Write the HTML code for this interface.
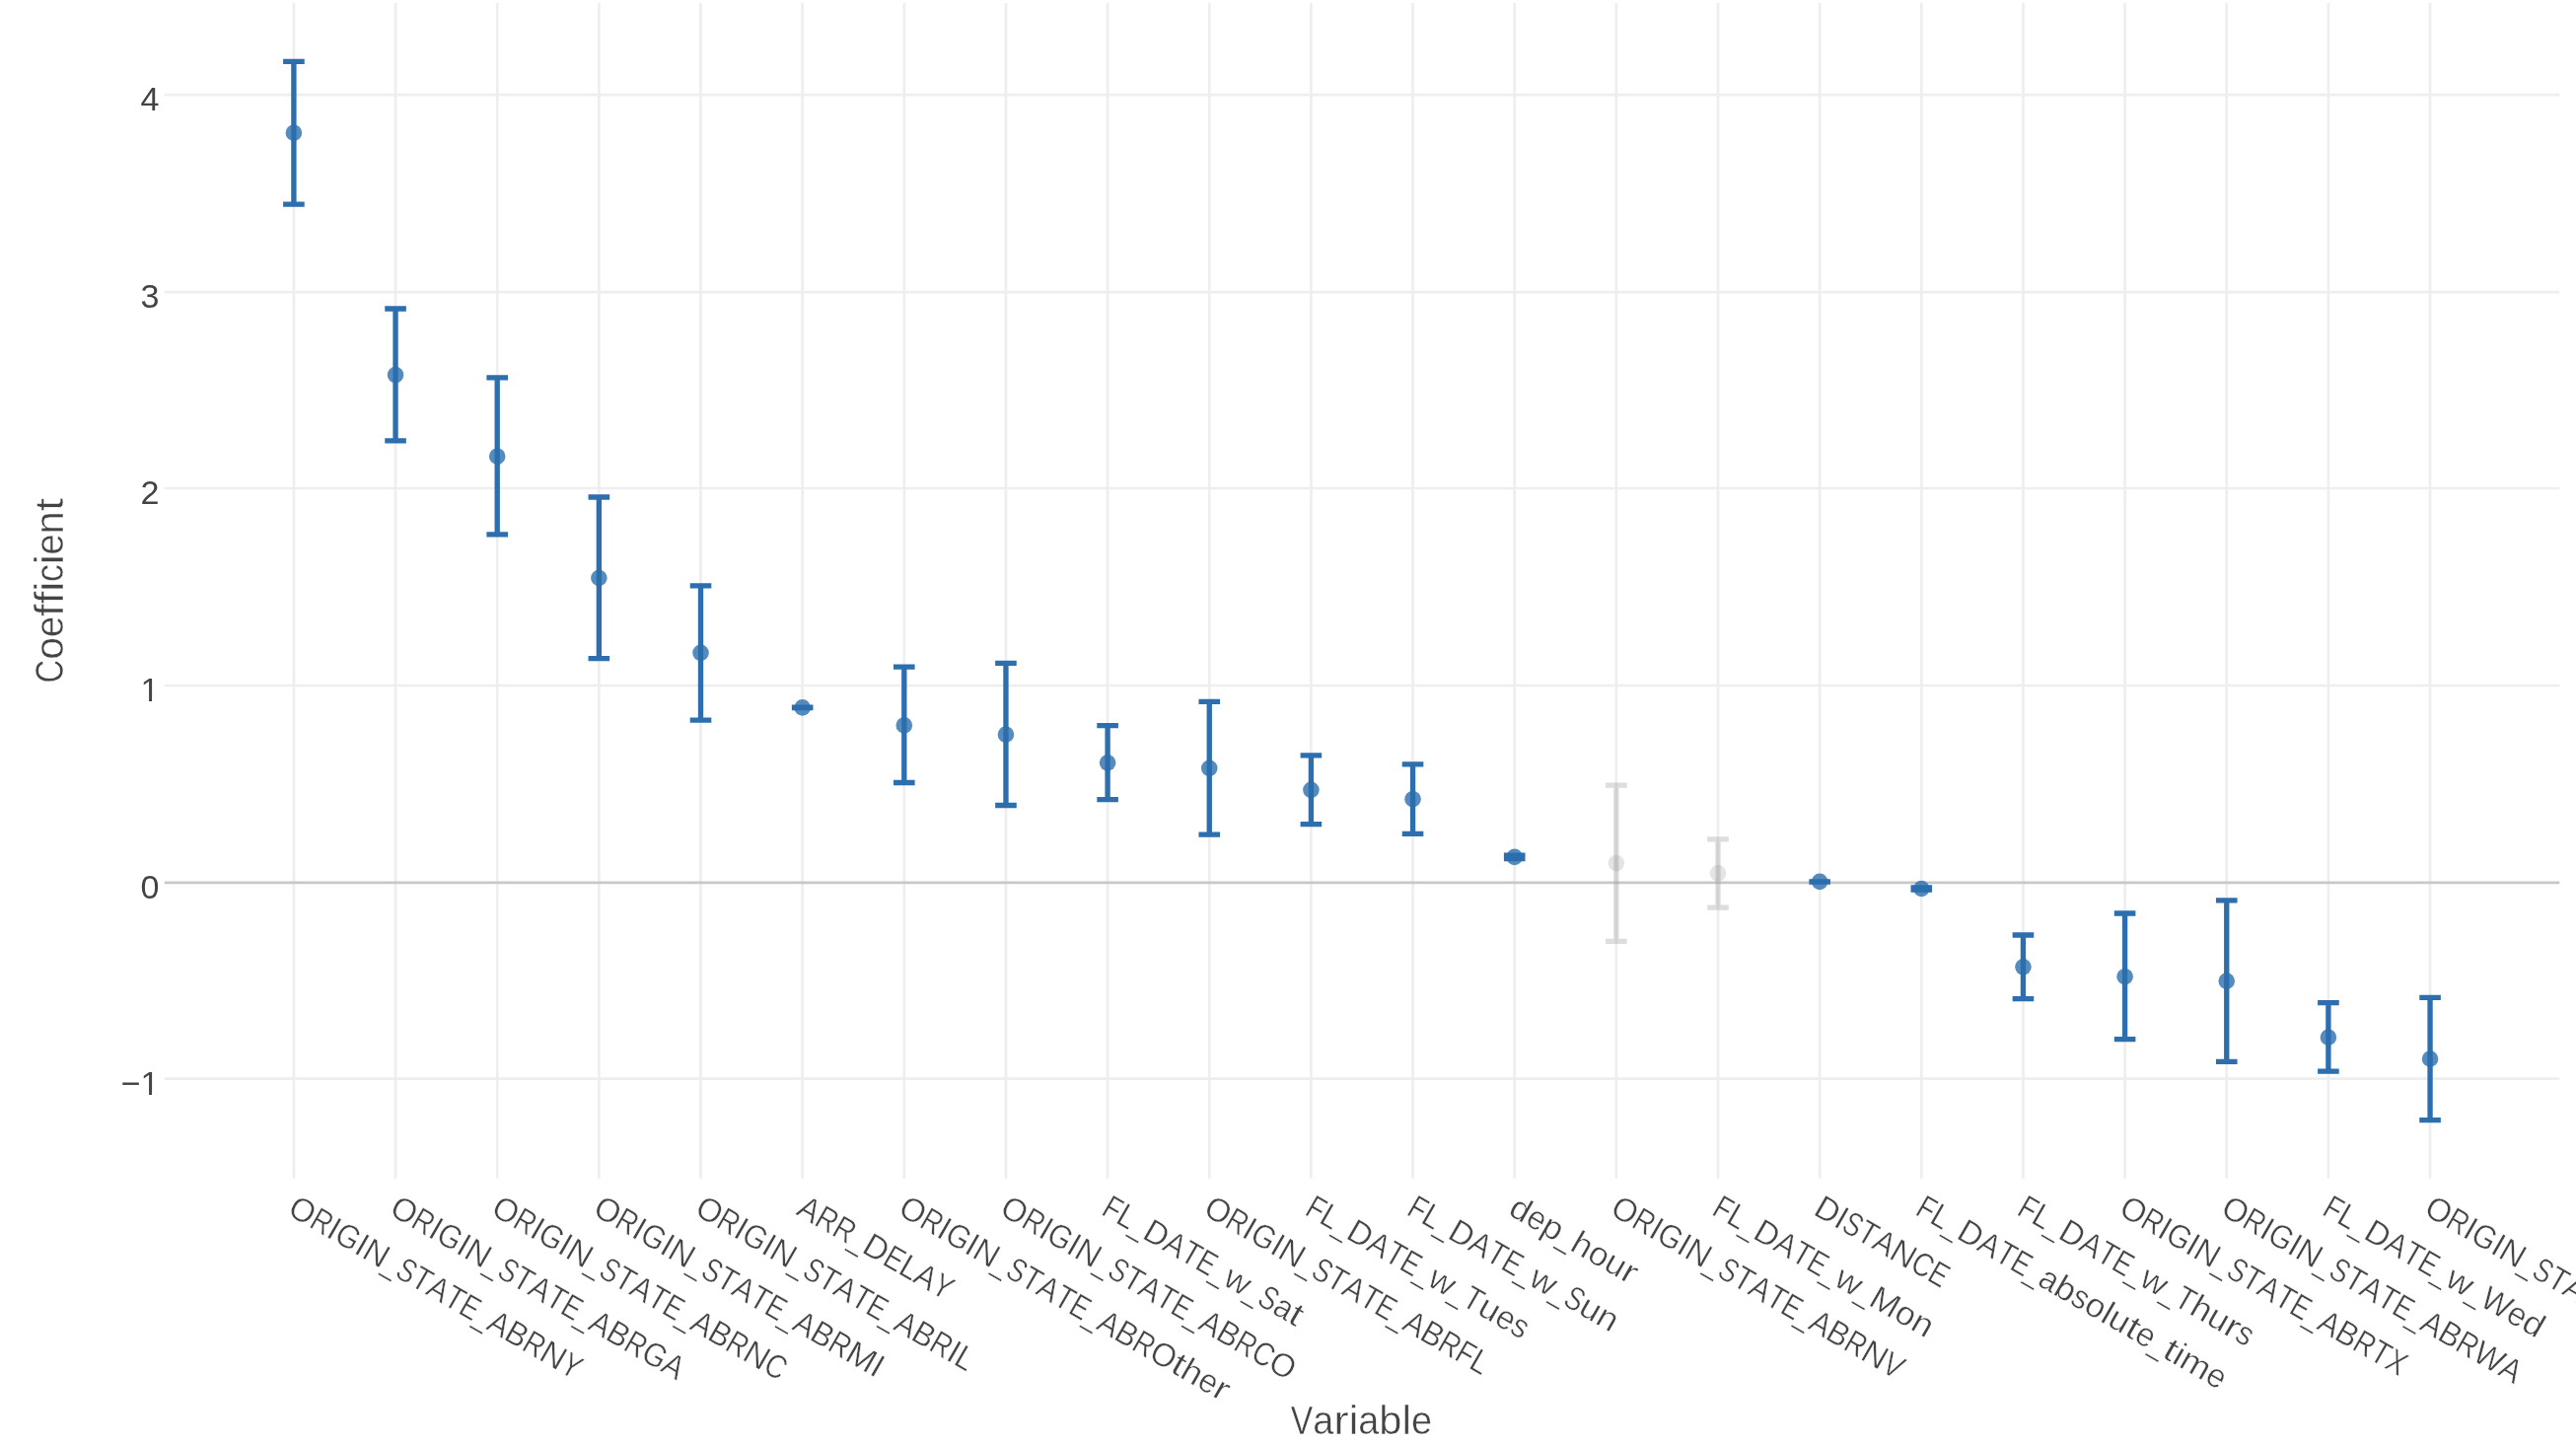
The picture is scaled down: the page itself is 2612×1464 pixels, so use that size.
<!DOCTYPE html>
<html lang="en"><head><meta charset="utf-8"><title>Coefficient plot</title>
<style>
html,body{margin:0;padding:0;background:#ffffff;}
body{width:2612px;height:1464px;overflow:hidden;}
svg{display:block;will-change:transform;}
text{font-family:"Liberation Sans",sans-serif;fill:#444444;stroke:#ffffff;stroke-width:0.45px;}
.tick{font-size:33.70px;stroke-width:0.3px;}
.ytick{font-size:34.11px;stroke:none;}
.title{font-size:39.83px;}
</style></head><body>
<svg width="2612" height="1464" viewBox="0 0 2612 1464">
<g>
<rect x="0" y="0" width="2612" height="1464" fill="#ffffff"/>
<g stroke="#eeeeee" stroke-width="2.667" fill="none">
<path d="M297.9,2.9V1194.8"/>
<path d="M401.05,2.9V1194.8"/>
<path d="M504.2,2.9V1194.8"/>
<path d="M607.35,2.9V1194.8"/>
<path d="M710.5,2.9V1194.8"/>
<path d="M813.65,2.9V1194.8"/>
<path d="M916.8,2.9V1194.8"/>
<path d="M1019.95,2.9V1194.8"/>
<path d="M1123.1,2.9V1194.8"/>
<path d="M1226.25,2.9V1194.8"/>
<path d="M1329.4,2.9V1194.8"/>
<path d="M1432.55,2.9V1194.8"/>
<path d="M1535.7,2.9V1194.8"/>
<path d="M1638.85,2.9V1194.8"/>
<path d="M1742,2.9V1194.8"/>
<path d="M1845.15,2.9V1194.8"/>
<path d="M1948.3,2.9V1194.8"/>
<path d="M2051.45,2.9V1194.8"/>
<path d="M2154.6,2.9V1194.8"/>
<path d="M2257.75,2.9V1194.8"/>
<path d="M2360.9,2.9V1194.8"/>
<path d="M2464.05,2.9V1194.8"/>
<path d="M166.8,96.07H2595.3"/>
<path d="M166.8,296.1H2595.3"/>
<path d="M166.8,494.97H2595.3"/>
<path d="M166.8,694.97H2595.3"/>
<path d="M166.8,1093.62H2595.3"/>
</g>
<path d="M166.8,894.95H2595.3" stroke="#c8c8c8" stroke-width="2.667" fill="none"/>
<path d="M287.1,62.4H308.7M297.9,62.4V207.1M287.1,207.1H308.7" stroke="#2c6eae" stroke-width="5.333" fill="none"/>
<circle cx="297.9" cy="134.7" r="8.3" fill="rgba(44,110,174,0.8)"/>
<path d="M390.25,313H411.85M401.05,313V446.8M390.25,446.8H411.85" stroke="#2c6eae" stroke-width="5.333" fill="none"/>
<circle cx="401.05" cy="380.1" r="8.3" fill="rgba(44,110,174,0.8)"/>
<path d="M493.4,382.9H515M504.2,382.9V541.9M493.4,541.9H515" stroke="#2c6eae" stroke-width="5.333" fill="none"/>
<circle cx="504.2" cy="462.7" r="8.3" fill="rgba(44,110,174,0.8)"/>
<path d="M596.55,504H618.15M607.35,504V667.7M596.55,667.7H618.15" stroke="#2c6eae" stroke-width="5.333" fill="none"/>
<circle cx="607.35" cy="586" r="8.3" fill="rgba(44,110,174,0.8)"/>
<path d="M699.7,593.8H721.3M710.5,593.8V730.1M699.7,730.1H721.3" stroke="#2c6eae" stroke-width="5.333" fill="none"/>
<circle cx="710.5" cy="661.8" r="8.3" fill="rgba(44,110,174,0.8)"/>
<path d="M802.85,717.2H824.45M813.65,717.2V717.6M802.85,717.6H824.45" stroke="#2c6eae" stroke-width="5.333" fill="none"/>
<circle cx="813.65" cy="717.4" r="8.3" fill="rgba(44,110,174,0.8)"/>
<path d="M906,676.1H927.6M916.8,676.1V793.5M906,793.5H927.6" stroke="#2c6eae" stroke-width="5.333" fill="none"/>
<circle cx="916.8" cy="735.4" r="8.3" fill="rgba(44,110,174,0.8)"/>
<path d="M1009.15,672.4H1030.75M1019.95,672.4V816.5M1009.15,816.5H1030.75" stroke="#2c6eae" stroke-width="5.333" fill="none"/>
<circle cx="1019.95" cy="744.7" r="8.3" fill="rgba(44,110,174,0.8)"/>
<path d="M1112.3,735.7H1133.9M1123.1,735.7V810.6M1112.3,810.6H1133.9" stroke="#2c6eae" stroke-width="5.333" fill="none"/>
<circle cx="1123.1" cy="773.3" r="8.3" fill="rgba(44,110,174,0.8)"/>
<path d="M1215.45,711.4H1237.05M1226.25,711.4V846.2M1215.45,846.2H1237.05" stroke="#2c6eae" stroke-width="5.333" fill="none"/>
<circle cx="1226.25" cy="778.8" r="8.3" fill="rgba(44,110,174,0.8)"/>
<path d="M1318.6,765.8H1340.2M1329.4,765.8V835.7M1318.6,835.7H1340.2" stroke="#2c6eae" stroke-width="5.333" fill="none"/>
<circle cx="1329.4" cy="800.9" r="8.3" fill="rgba(44,110,174,0.8)"/>
<path d="M1421.75,774.8H1443.35M1432.55,774.8V845.3M1421.75,845.3H1443.35" stroke="#2c6eae" stroke-width="5.333" fill="none"/>
<circle cx="1432.55" cy="810.2" r="8.3" fill="rgba(44,110,174,0.8)"/>
<path d="M1524.9,867.2H1546.5M1535.7,867.2V870.6M1524.9,870.6H1546.5" stroke="#2c6eae" stroke-width="5.333" fill="none"/>
<circle cx="1535.7" cy="868.9" r="8.3" fill="rgba(44,110,174,0.8)"/>
<path d="M1628.05,796.2H1649.65M1638.85,796.2V954.3M1628.05,954.3H1649.65" stroke="rgba(153,153,153,0.33)" stroke-width="5.333" fill="none"/>
<circle cx="1638.85" cy="875.1" r="8.3" fill="rgba(153,153,153,0.265)"/>
<path d="M1731.2,850.9H1752.8M1742,850.9V920.1M1731.2,920.1H1752.8" stroke="rgba(153,153,153,0.33)" stroke-width="5.333" fill="none"/>
<circle cx="1742" cy="885.3" r="8.3" fill="rgba(153,153,153,0.265)"/>
<path d="M1834.35,893.8H1855.95M1845.15,893.8V894M1834.35,894H1855.95" stroke="#2c6eae" stroke-width="5.333" fill="none"/>
<circle cx="1845.15" cy="893.9" r="8.3" fill="rgba(44,110,174,0.8)"/>
<path d="M1937.5,899.9H1959.1M1948.3,899.9V902.1M1937.5,902.1H1959.1" stroke="#2c6eae" stroke-width="5.333" fill="none"/>
<circle cx="1948.3" cy="901" r="8.3" fill="rgba(44,110,174,0.8)"/>
<path d="M2040.65,948H2062.25M2051.45,948V1012.6M2040.65,1012.6H2062.25" stroke="#2c6eae" stroke-width="5.333" fill="none"/>
<circle cx="2051.45" cy="980.3" r="8.3" fill="rgba(44,110,174,0.8)"/>
<path d="M2143.8,926H2165.4M2154.6,926V1053.6M2143.8,1053.6H2165.4" stroke="#2c6eae" stroke-width="5.333" fill="none"/>
<circle cx="2154.6" cy="990.2" r="8.3" fill="rgba(44,110,174,0.8)"/>
<path d="M2246.95,912.9H2268.55M2257.75,912.9V1076.3M2246.95,1076.3H2268.55" stroke="#2c6eae" stroke-width="5.333" fill="none"/>
<circle cx="2257.75" cy="994.6" r="8.3" fill="rgba(44,110,174,0.8)"/>
<path d="M2350.1,1016.6H2371.7M2360.9,1016.6V1086.2M2350.1,1086.2H2371.7" stroke="#2c6eae" stroke-width="5.333" fill="none"/>
<circle cx="2360.9" cy="1051.7" r="8.3" fill="rgba(44,110,174,0.8)"/>
<path d="M2453.25,1011.4H2474.85M2464.05,1011.4V1135.6M2453.25,1135.6H2474.85" stroke="#2c6eae" stroke-width="5.333" fill="none"/>
<circle cx="2464.05" cy="1073.5" r="8.3" fill="rgba(44,110,174,0.8)"/>
<text class="ytick" x="161.6" y="112.35" text-anchor="end">4</text>
<text class="ytick" x="161.6" y="311.9" text-anchor="end">3</text>
<text class="ytick" x="161.6" y="511.45" text-anchor="end">2</text>
<text class="ytick" x="161.6" y="711" text-anchor="end">1</text>
<path d="M143,707.7H151.07V711.8H143ZM154.07,707.7H162V711.8H154.07Z" fill="#ffffff"/>
<text class="ytick" x="161.6" y="910.55" text-anchor="end">0</text>
<text class="ytick" x="161.6" y="1110.1" text-anchor="end">−1</text>
<path d="M143,1106.8H151.07V1110.9H143ZM154.07,1106.8H162V1110.9H154.07Z" fill="#ffffff"/>
<g class="tick" transform="translate(290.3,1230.7) rotate(30)"><text><tspan x="0.00" textLength="25.25" lengthAdjust="spacingAndGlyphs">O</tspan><tspan x="25.25" textLength="20.04" lengthAdjust="spacingAndGlyphs">R</tspan><tspan x="45.28" textLength="9.04" lengthAdjust="spacingAndGlyphs">I</tspan><tspan x="54.32" textLength="23.60" lengthAdjust="spacingAndGlyphs">G</tspan><tspan x="77.92" textLength="9.04" lengthAdjust="spacingAndGlyphs">I</tspan><tspan x="86.96" textLength="24.44" lengthAdjust="spacingAndGlyphs">N</tspan><tspan x="111.40" textLength="14.53" lengthAdjust="spacingAndGlyphs">_</tspan><tspan x="125.93" textLength="17.79" lengthAdjust="spacingAndGlyphs">S</tspan><tspan x="143.72" textLength="17.93" lengthAdjust="spacingAndGlyphs">T</tspan><tspan x="161.65" textLength="20.51" lengthAdjust="spacingAndGlyphs">A</tspan><tspan x="182.16" textLength="17.93" lengthAdjust="spacingAndGlyphs">T</tspan><tspan x="200.10" textLength="18.03" lengthAdjust="spacingAndGlyphs">E</tspan><tspan x="218.12" textLength="14.53" lengthAdjust="spacingAndGlyphs">_</tspan><tspan x="232.65" textLength="20.51" lengthAdjust="spacingAndGlyphs">A</tspan><tspan x="253.17" textLength="21.00" lengthAdjust="spacingAndGlyphs">B</tspan><tspan x="274.17" textLength="20.04" lengthAdjust="spacingAndGlyphs">R</tspan><tspan x="294.21" textLength="24.44" lengthAdjust="spacingAndGlyphs">N</tspan><tspan x="318.65" textLength="18.15" lengthAdjust="spacingAndGlyphs">Y</tspan></text></g>
<g class="tick" transform="translate(393.45,1230.7) rotate(30)"><text><tspan x="0.00" textLength="25.24" lengthAdjust="spacingAndGlyphs">O</tspan><tspan x="25.24" textLength="20.03" lengthAdjust="spacingAndGlyphs">R</tspan><tspan x="45.27" textLength="9.03" lengthAdjust="spacingAndGlyphs">I</tspan><tspan x="54.30" textLength="23.59" lengthAdjust="spacingAndGlyphs">G</tspan><tspan x="77.89" textLength="9.03" lengthAdjust="spacingAndGlyphs">I</tspan><tspan x="86.93" textLength="24.43" lengthAdjust="spacingAndGlyphs">N</tspan><tspan x="111.36" textLength="14.52" lengthAdjust="spacingAndGlyphs">_</tspan><tspan x="125.88" textLength="17.78" lengthAdjust="spacingAndGlyphs">S</tspan><tspan x="143.67" textLength="17.93" lengthAdjust="spacingAndGlyphs">T</tspan><tspan x="161.59" textLength="20.51" lengthAdjust="spacingAndGlyphs">A</tspan><tspan x="182.10" textLength="17.93" lengthAdjust="spacingAndGlyphs">T</tspan><tspan x="200.02" textLength="18.02" lengthAdjust="spacingAndGlyphs">E</tspan><tspan x="218.05" textLength="14.52" lengthAdjust="spacingAndGlyphs">_</tspan><tspan x="232.57" textLength="20.51" lengthAdjust="spacingAndGlyphs">A</tspan><tspan x="253.08" textLength="21.00" lengthAdjust="spacingAndGlyphs">B</tspan><tspan x="274.07" textLength="20.03" lengthAdjust="spacingAndGlyphs">R</tspan><tspan x="294.10" textLength="23.59" lengthAdjust="spacingAndGlyphs">G</tspan><tspan x="317.69" textLength="20.51" lengthAdjust="spacingAndGlyphs">A</tspan></text></g>
<g class="tick" transform="translate(496.6,1230.7) rotate(30)"><text><tspan x="0.00" textLength="25.22" lengthAdjust="spacingAndGlyphs">O</tspan><tspan x="25.22" textLength="20.02" lengthAdjust="spacingAndGlyphs">R</tspan><tspan x="45.24" textLength="9.03" lengthAdjust="spacingAndGlyphs">I</tspan><tspan x="54.27" textLength="23.58" lengthAdjust="spacingAndGlyphs">G</tspan><tspan x="77.85" textLength="9.03" lengthAdjust="spacingAndGlyphs">I</tspan><tspan x="86.88" textLength="24.42" lengthAdjust="spacingAndGlyphs">N</tspan><tspan x="111.30" textLength="14.52" lengthAdjust="spacingAndGlyphs">_</tspan><tspan x="125.82" textLength="17.77" lengthAdjust="spacingAndGlyphs">S</tspan><tspan x="143.59" textLength="17.92" lengthAdjust="spacingAndGlyphs">T</tspan><tspan x="161.51" textLength="20.49" lengthAdjust="spacingAndGlyphs">A</tspan><tspan x="182.00" textLength="17.92" lengthAdjust="spacingAndGlyphs">T</tspan><tspan x="199.92" textLength="18.01" lengthAdjust="spacingAndGlyphs">E</tspan><tspan x="217.93" textLength="14.52" lengthAdjust="spacingAndGlyphs">_</tspan><tspan x="232.45" textLength="20.49" lengthAdjust="spacingAndGlyphs">A</tspan><tspan x="252.95" textLength="20.99" lengthAdjust="spacingAndGlyphs">B</tspan><tspan x="273.93" textLength="20.02" lengthAdjust="spacingAndGlyphs">R</tspan><tspan x="293.95" textLength="24.42" lengthAdjust="spacingAndGlyphs">N</tspan><tspan x="318.37" textLength="20.43" lengthAdjust="spacingAndGlyphs">C</tspan></text></g>
<g class="tick" transform="translate(599.75,1230.7) rotate(30)"><text><tspan x="0.00" textLength="25.31" lengthAdjust="spacingAndGlyphs">O</tspan><tspan x="25.31" textLength="20.09" lengthAdjust="spacingAndGlyphs">R</tspan><tspan x="45.39" textLength="9.06" lengthAdjust="spacingAndGlyphs">I</tspan><tspan x="54.45" textLength="23.66" lengthAdjust="spacingAndGlyphs">G</tspan><tspan x="78.11" textLength="9.06" lengthAdjust="spacingAndGlyphs">I</tspan><tspan x="87.16" textLength="24.50" lengthAdjust="spacingAndGlyphs">N</tspan><tspan x="111.66" textLength="14.56" lengthAdjust="spacingAndGlyphs">_</tspan><tspan x="126.22" textLength="17.83" lengthAdjust="spacingAndGlyphs">S</tspan><tspan x="144.06" textLength="17.98" lengthAdjust="spacingAndGlyphs">T</tspan><tspan x="162.03" textLength="20.56" lengthAdjust="spacingAndGlyphs">A</tspan><tspan x="182.59" textLength="17.98" lengthAdjust="spacingAndGlyphs">T</tspan><tspan x="200.57" textLength="18.07" lengthAdjust="spacingAndGlyphs">E</tspan><tspan x="218.64" textLength="14.56" lengthAdjust="spacingAndGlyphs">_</tspan><tspan x="233.21" textLength="20.56" lengthAdjust="spacingAndGlyphs">A</tspan><tspan x="253.77" textLength="21.05" lengthAdjust="spacingAndGlyphs">B</tspan><tspan x="274.82" textLength="20.09" lengthAdjust="spacingAndGlyphs">R</tspan><tspan x="294.91" textLength="29.34" lengthAdjust="spacingAndGlyphs">M</tspan><tspan x="324.24" textLength="9.06" lengthAdjust="spacingAndGlyphs">I</tspan></text></g>
<g class="tick" transform="translate(702.9,1230.7) rotate(30)"><text><tspan x="0.00" textLength="25.27" lengthAdjust="spacingAndGlyphs">O</tspan><tspan x="25.27" textLength="20.06" lengthAdjust="spacingAndGlyphs">R</tspan><tspan x="45.33" textLength="9.05" lengthAdjust="spacingAndGlyphs">I</tspan><tspan x="54.38" textLength="23.62" lengthAdjust="spacingAndGlyphs">G</tspan><tspan x="78.00" textLength="9.05" lengthAdjust="spacingAndGlyphs">I</tspan><tspan x="87.05" textLength="24.46" lengthAdjust="spacingAndGlyphs">N</tspan><tspan x="111.51" textLength="14.54" lengthAdjust="spacingAndGlyphs">_</tspan><tspan x="126.06" textLength="17.81" lengthAdjust="spacingAndGlyphs">S</tspan><tspan x="143.86" textLength="17.95" lengthAdjust="spacingAndGlyphs">T</tspan><tspan x="161.82" textLength="20.53" lengthAdjust="spacingAndGlyphs">A</tspan><tspan x="182.35" textLength="17.95" lengthAdjust="spacingAndGlyphs">T</tspan><tspan x="200.30" textLength="18.05" lengthAdjust="spacingAndGlyphs">E</tspan><tspan x="218.35" textLength="14.54" lengthAdjust="spacingAndGlyphs">_</tspan><tspan x="232.89" textLength="20.53" lengthAdjust="spacingAndGlyphs">A</tspan><tspan x="253.43" textLength="21.03" lengthAdjust="spacingAndGlyphs">B</tspan><tspan x="274.45" textLength="20.06" lengthAdjust="spacingAndGlyphs">R</tspan><tspan x="294.51" textLength="9.05" lengthAdjust="spacingAndGlyphs">I</tspan><tspan x="303.56" textLength="16.84" lengthAdjust="spacingAndGlyphs">L</tspan></text></g>
<g class="tick" transform="translate(806.05,1230.7) rotate(30)"><text><tspan x="0.00" textLength="20.97" lengthAdjust="spacingAndGlyphs">A</tspan><tspan x="20.97" textLength="20.48" lengthAdjust="spacingAndGlyphs">R</tspan><tspan x="41.45" textLength="20.48" lengthAdjust="spacingAndGlyphs">R</tspan><tspan x="61.94" textLength="14.85" lengthAdjust="spacingAndGlyphs">_</tspan><tspan x="76.79" textLength="24.16" lengthAdjust="spacingAndGlyphs">D</tspan><tspan x="100.95" textLength="18.43" lengthAdjust="spacingAndGlyphs">E</tspan><tspan x="119.37" textLength="17.20" lengthAdjust="spacingAndGlyphs">L</tspan><tspan x="136.57" textLength="20.97" lengthAdjust="spacingAndGlyphs">A</tspan><tspan x="157.54" textLength="18.56" lengthAdjust="spacingAndGlyphs">Y</tspan></text></g>
<g class="tick" transform="translate(909.2,1230.7) rotate(30)"><text><tspan x="0.00" textLength="25.19" lengthAdjust="spacingAndGlyphs">O</tspan><tspan x="25.19" textLength="19.99" lengthAdjust="spacingAndGlyphs">R</tspan><tspan x="45.18" textLength="9.02" lengthAdjust="spacingAndGlyphs">I</tspan><tspan x="54.19" textLength="23.54" lengthAdjust="spacingAndGlyphs">G</tspan><tspan x="77.73" textLength="9.02" lengthAdjust="spacingAndGlyphs">I</tspan><tspan x="86.75" textLength="24.38" lengthAdjust="spacingAndGlyphs">N</tspan><tspan x="111.13" textLength="14.50" lengthAdjust="spacingAndGlyphs">_</tspan><tspan x="125.63" textLength="17.75" lengthAdjust="spacingAndGlyphs">S</tspan><tspan x="143.37" textLength="17.89" lengthAdjust="spacingAndGlyphs">T</tspan><tspan x="161.26" textLength="20.46" lengthAdjust="spacingAndGlyphs">A</tspan><tspan x="181.73" textLength="17.89" lengthAdjust="spacingAndGlyphs">T</tspan><tspan x="199.62" textLength="17.98" lengthAdjust="spacingAndGlyphs">E</tspan><tspan x="217.60" textLength="14.50" lengthAdjust="spacingAndGlyphs">_</tspan><tspan x="232.10" textLength="20.46" lengthAdjust="spacingAndGlyphs">A</tspan><tspan x="252.56" textLength="20.95" lengthAdjust="spacingAndGlyphs">B</tspan><tspan x="273.52" textLength="19.99" lengthAdjust="spacingAndGlyphs">R</tspan><tspan x="293.51" textLength="25.19" lengthAdjust="spacingAndGlyphs">O</tspan><tspan x="318.69" textLength="11.42" lengthAdjust="spacingAndGlyphs">t</tspan><tspan x="330.11" textLength="19.85" lengthAdjust="spacingAndGlyphs">h</tspan><tspan x="349.96" textLength="18.14" lengthAdjust="spacingAndGlyphs">e</tspan><tspan x="368.10" textLength="13.20" lengthAdjust="spacingAndGlyphs">r</tspan></text></g>
<g class="tick" transform="translate(1012.35,1230.7) rotate(30)"><text><tspan x="0.00" textLength="25.20" lengthAdjust="spacingAndGlyphs">O</tspan><tspan x="25.20" textLength="20.00" lengthAdjust="spacingAndGlyphs">R</tspan><tspan x="45.20" textLength="9.02" lengthAdjust="spacingAndGlyphs">I</tspan><tspan x="54.22" textLength="23.56" lengthAdjust="spacingAndGlyphs">G</tspan><tspan x="77.78" textLength="9.02" lengthAdjust="spacingAndGlyphs">I</tspan><tspan x="86.80" textLength="24.39" lengthAdjust="spacingAndGlyphs">N</tspan><tspan x="111.20" textLength="14.50" lengthAdjust="spacingAndGlyphs">_</tspan><tspan x="125.70" textLength="17.76" lengthAdjust="spacingAndGlyphs">S</tspan><tspan x="143.46" textLength="17.90" lengthAdjust="spacingAndGlyphs">T</tspan><tspan x="161.36" textLength="20.48" lengthAdjust="spacingAndGlyphs">A</tspan><tspan x="181.84" textLength="17.90" lengthAdjust="spacingAndGlyphs">T</tspan><tspan x="199.74" textLength="18.00" lengthAdjust="spacingAndGlyphs">E</tspan><tspan x="217.74" textLength="14.50" lengthAdjust="spacingAndGlyphs">_</tspan><tspan x="232.24" textLength="20.48" lengthAdjust="spacingAndGlyphs">A</tspan><tspan x="252.72" textLength="20.97" lengthAdjust="spacingAndGlyphs">B</tspan><tspan x="273.68" textLength="20.00" lengthAdjust="spacingAndGlyphs">R</tspan><tspan x="293.69" textLength="20.41" lengthAdjust="spacingAndGlyphs">C</tspan><tspan x="314.10" textLength="25.20" lengthAdjust="spacingAndGlyphs">O</tspan></text></g>
<g class="tick" transform="translate(1115.5,1230.7) rotate(30)"><text><tspan x="0.00" textLength="16.65" lengthAdjust="spacingAndGlyphs">F</tspan><tspan x="16.65" textLength="16.75" lengthAdjust="spacingAndGlyphs">L</tspan><tspan x="33.40" textLength="14.46" lengthAdjust="spacingAndGlyphs">_</tspan><tspan x="47.87" textLength="23.52" lengthAdjust="spacingAndGlyphs">D</tspan><tspan x="71.39" textLength="20.42" lengthAdjust="spacingAndGlyphs">A</tspan><tspan x="91.81" textLength="17.85" lengthAdjust="spacingAndGlyphs">T</tspan><tspan x="109.66" textLength="17.95" lengthAdjust="spacingAndGlyphs">E</tspan><tspan x="127.61" textLength="14.46" lengthAdjust="spacingAndGlyphs">_</tspan><tspan x="142.07" textLength="25.71" lengthAdjust="spacingAndGlyphs">w</tspan><tspan x="167.79" textLength="14.46" lengthAdjust="spacingAndGlyphs">_</tspan><tspan x="182.25" textLength="17.71" lengthAdjust="spacingAndGlyphs">S</tspan><tspan x="199.96" textLength="17.95" lengthAdjust="spacingAndGlyphs">a</tspan><tspan x="217.91" textLength="11.39" lengthAdjust="spacingAndGlyphs">t</tspan></text></g>
<g class="tick" transform="translate(1218.65,1230.7) rotate(30)"><text><tspan x="0.00" textLength="25.25" lengthAdjust="spacingAndGlyphs">O</tspan><tspan x="25.25" textLength="20.04" lengthAdjust="spacingAndGlyphs">R</tspan><tspan x="45.29" textLength="9.04" lengthAdjust="spacingAndGlyphs">I</tspan><tspan x="54.33" textLength="23.60" lengthAdjust="spacingAndGlyphs">G</tspan><tspan x="77.93" textLength="9.04" lengthAdjust="spacingAndGlyphs">I</tspan><tspan x="86.97" textLength="24.44" lengthAdjust="spacingAndGlyphs">N</tspan><tspan x="111.41" textLength="14.53" lengthAdjust="spacingAndGlyphs">_</tspan><tspan x="125.94" textLength="17.79" lengthAdjust="spacingAndGlyphs">S</tspan><tspan x="143.73" textLength="17.93" lengthAdjust="spacingAndGlyphs">T</tspan><tspan x="161.67" textLength="20.52" lengthAdjust="spacingAndGlyphs">A</tspan><tspan x="182.18" textLength="17.93" lengthAdjust="spacingAndGlyphs">T</tspan><tspan x="200.12" textLength="18.03" lengthAdjust="spacingAndGlyphs">E</tspan><tspan x="218.15" textLength="14.53" lengthAdjust="spacingAndGlyphs">_</tspan><tspan x="232.68" textLength="20.52" lengthAdjust="spacingAndGlyphs">A</tspan><tspan x="253.19" textLength="21.01" lengthAdjust="spacingAndGlyphs">B</tspan><tspan x="274.20" textLength="20.04" lengthAdjust="spacingAndGlyphs">R</tspan><tspan x="294.24" textLength="16.73" lengthAdjust="spacingAndGlyphs">F</tspan><tspan x="310.97" textLength="16.83" lengthAdjust="spacingAndGlyphs">L</tspan></text></g>
<g class="tick" transform="translate(1321.8,1230.7) rotate(30)"><text><tspan x="0.00" textLength="16.78" lengthAdjust="spacingAndGlyphs">F</tspan><tspan x="16.78" textLength="16.87" lengthAdjust="spacingAndGlyphs">L</tspan><tspan x="33.65" textLength="14.57" lengthAdjust="spacingAndGlyphs">_</tspan><tspan x="48.22" textLength="23.70" lengthAdjust="spacingAndGlyphs">D</tspan><tspan x="71.92" textLength="20.57" lengthAdjust="spacingAndGlyphs">A</tspan><tspan x="92.50" textLength="17.99" lengthAdjust="spacingAndGlyphs">T</tspan><tspan x="110.48" textLength="18.08" lengthAdjust="spacingAndGlyphs">E</tspan><tspan x="128.56" textLength="14.57" lengthAdjust="spacingAndGlyphs">_</tspan><tspan x="143.13" textLength="25.91" lengthAdjust="spacingAndGlyphs">w</tspan><tspan x="169.04" textLength="14.57" lengthAdjust="spacingAndGlyphs">_</tspan><tspan x="183.61" textLength="17.99" lengthAdjust="spacingAndGlyphs">T</tspan><tspan x="201.60" textLength="19.95" lengthAdjust="spacingAndGlyphs">u</tspan><tspan x="221.55" textLength="18.24" lengthAdjust="spacingAndGlyphs">e</tspan><tspan x="239.79" textLength="15.51" lengthAdjust="spacingAndGlyphs">s</tspan></text></g>
<g class="tick" transform="translate(1424.95,1230.7) rotate(30)"><text><tspan x="0.00" textLength="16.74" lengthAdjust="spacingAndGlyphs">F</tspan><tspan x="16.74" textLength="16.83" lengthAdjust="spacingAndGlyphs">L</tspan><tspan x="33.57" textLength="14.54" lengthAdjust="spacingAndGlyphs">_</tspan><tspan x="48.11" textLength="23.64" lengthAdjust="spacingAndGlyphs">D</tspan><tspan x="71.76" textLength="20.52" lengthAdjust="spacingAndGlyphs">A</tspan><tspan x="92.28" textLength="17.94" lengthAdjust="spacingAndGlyphs">T</tspan><tspan x="110.22" textLength="18.04" lengthAdjust="spacingAndGlyphs">E</tspan><tspan x="128.26" textLength="14.54" lengthAdjust="spacingAndGlyphs">_</tspan><tspan x="142.80" textLength="25.85" lengthAdjust="spacingAndGlyphs">w</tspan><tspan x="168.65" textLength="14.54" lengthAdjust="spacingAndGlyphs">_</tspan><tspan x="183.19" textLength="17.80" lengthAdjust="spacingAndGlyphs">S</tspan><tspan x="200.99" textLength="19.91" lengthAdjust="spacingAndGlyphs">u</tspan><tspan x="220.89" textLength="19.91" lengthAdjust="spacingAndGlyphs">n</tspan></text></g>
<g class="tick" transform="translate(1528.1,1230.7) rotate(30)"><text><tspan x="0.00" textLength="19.76" lengthAdjust="spacingAndGlyphs">d</tspan><tspan x="19.76" textLength="18.09" lengthAdjust="spacingAndGlyphs">e</tspan><tspan x="37.85" textLength="19.76" lengthAdjust="spacingAndGlyphs">p</tspan><tspan x="57.62" textLength="14.46" lengthAdjust="spacingAndGlyphs">_</tspan><tspan x="72.07" textLength="19.79" lengthAdjust="spacingAndGlyphs">h</tspan><tspan x="91.86" textLength="19.48" lengthAdjust="spacingAndGlyphs">o</tspan><tspan x="111.34" textLength="19.79" lengthAdjust="spacingAndGlyphs">u</tspan><tspan x="131.14" textLength="13.16" lengthAdjust="spacingAndGlyphs">r</tspan></text></g>
<g class="tick" transform="translate(1631.25,1230.7) rotate(30)"><text><tspan x="0.00" textLength="25.15" lengthAdjust="spacingAndGlyphs">O</tspan><tspan x="25.15" textLength="19.96" lengthAdjust="spacingAndGlyphs">R</tspan><tspan x="45.10" textLength="9.00" lengthAdjust="spacingAndGlyphs">I</tspan><tspan x="54.11" textLength="23.51" lengthAdjust="spacingAndGlyphs">G</tspan><tspan x="77.61" textLength="9.00" lengthAdjust="spacingAndGlyphs">I</tspan><tspan x="86.61" textLength="24.34" lengthAdjust="spacingAndGlyphs">N</tspan><tspan x="110.95" textLength="14.47" lengthAdjust="spacingAndGlyphs">_</tspan><tspan x="125.43" textLength="17.72" lengthAdjust="spacingAndGlyphs">S</tspan><tspan x="143.15" textLength="17.86" lengthAdjust="spacingAndGlyphs">T</tspan><tspan x="161.01" textLength="20.43" lengthAdjust="spacingAndGlyphs">A</tspan><tspan x="181.44" textLength="17.86" lengthAdjust="spacingAndGlyphs">T</tspan><tspan x="199.30" textLength="17.96" lengthAdjust="spacingAndGlyphs">E</tspan><tspan x="217.26" textLength="14.47" lengthAdjust="spacingAndGlyphs">_</tspan><tspan x="231.73" textLength="20.43" lengthAdjust="spacingAndGlyphs">A</tspan><tspan x="252.16" textLength="20.92" lengthAdjust="spacingAndGlyphs">B</tspan><tspan x="273.08" textLength="19.96" lengthAdjust="spacingAndGlyphs">R</tspan><tspan x="293.04" textLength="24.34" lengthAdjust="spacingAndGlyphs">N</tspan><tspan x="317.38" textLength="19.22" lengthAdjust="spacingAndGlyphs">V</tspan></text></g>
<g class="tick" transform="translate(1734.4,1230.7) rotate(30)"><text><tspan x="0.00" textLength="16.76" lengthAdjust="spacingAndGlyphs">F</tspan><tspan x="16.76" textLength="16.86" lengthAdjust="spacingAndGlyphs">L</tspan><tspan x="33.62" textLength="14.56" lengthAdjust="spacingAndGlyphs">_</tspan><tspan x="48.18" textLength="23.68" lengthAdjust="spacingAndGlyphs">D</tspan><tspan x="71.85" textLength="20.55" lengthAdjust="spacingAndGlyphs">A</tspan><tspan x="92.40" textLength="17.97" lengthAdjust="spacingAndGlyphs">T</tspan><tspan x="110.37" textLength="18.06" lengthAdjust="spacingAndGlyphs">E</tspan><tspan x="128.43" textLength="14.56" lengthAdjust="spacingAndGlyphs">_</tspan><tspan x="142.99" textLength="25.88" lengthAdjust="spacingAndGlyphs">w</tspan><tspan x="168.87" textLength="14.56" lengthAdjust="spacingAndGlyphs">_</tspan><tspan x="183.43" textLength="29.32" lengthAdjust="spacingAndGlyphs">M</tspan><tspan x="212.75" textLength="19.62" lengthAdjust="spacingAndGlyphs">o</tspan><tspan x="232.37" textLength="19.93" lengthAdjust="spacingAndGlyphs">n</tspan></text></g>
<g class="tick" transform="translate(1837.55,1230.7) rotate(30)"><text><tspan x="0.00" textLength="23.50" lengthAdjust="spacingAndGlyphs">D</tspan><tspan x="23.50" textLength="8.99" lengthAdjust="spacingAndGlyphs">I</tspan><tspan x="32.49" textLength="17.69" lengthAdjust="spacingAndGlyphs">S</tspan><tspan x="50.19" textLength="17.84" lengthAdjust="spacingAndGlyphs">T</tspan><tspan x="68.02" textLength="20.40" lengthAdjust="spacingAndGlyphs">A</tspan><tspan x="88.42" textLength="24.31" lengthAdjust="spacingAndGlyphs">N</tspan><tspan x="112.73" textLength="20.34" lengthAdjust="spacingAndGlyphs">C</tspan><tspan x="133.07" textLength="17.93" lengthAdjust="spacingAndGlyphs">E</tspan></text></g>
<g class="tick" transform="translate(1940.7,1230.7) rotate(30)"><text><tspan x="0.00" textLength="16.80" lengthAdjust="spacingAndGlyphs">F</tspan><tspan x="16.80" textLength="16.89" lengthAdjust="spacingAndGlyphs">L</tspan><tspan x="33.69" textLength="14.59" lengthAdjust="spacingAndGlyphs">_</tspan><tspan x="48.28" textLength="23.72" lengthAdjust="spacingAndGlyphs">D</tspan><tspan x="72.00" textLength="20.59" lengthAdjust="spacingAndGlyphs">A</tspan><tspan x="92.59" textLength="18.00" lengthAdjust="spacingAndGlyphs">T</tspan><tspan x="110.60" textLength="18.10" lengthAdjust="spacingAndGlyphs">E</tspan><tspan x="128.70" textLength="14.59" lengthAdjust="spacingAndGlyphs">_</tspan><tspan x="143.29" textLength="18.10" lengthAdjust="spacingAndGlyphs">a</tspan><tspan x="161.38" textLength="19.94" lengthAdjust="spacingAndGlyphs">b</tspan><tspan x="181.33" textLength="15.53" lengthAdjust="spacingAndGlyphs">s</tspan><tspan x="196.85" textLength="19.66" lengthAdjust="spacingAndGlyphs">o</tspan><tspan x="216.51" textLength="8.23" lengthAdjust="spacingAndGlyphs">l</tspan><tspan x="224.74" textLength="19.97" lengthAdjust="spacingAndGlyphs">u</tspan><tspan x="244.72" textLength="11.49" lengthAdjust="spacingAndGlyphs">t</tspan><tspan x="256.20" textLength="18.26" lengthAdjust="spacingAndGlyphs">e</tspan><tspan x="274.46" textLength="14.59" lengthAdjust="spacingAndGlyphs">_</tspan><tspan x="289.05" textLength="11.49" lengthAdjust="spacingAndGlyphs">t</tspan><tspan x="300.54" textLength="8.23" lengthAdjust="spacingAndGlyphs">i</tspan><tspan x="308.77" textLength="30.27" lengthAdjust="spacingAndGlyphs">m</tspan><tspan x="339.04" textLength="18.26" lengthAdjust="spacingAndGlyphs">e</tspan></text></g>
<g class="tick" transform="translate(2043.85,1230.7) rotate(30)"><text><tspan x="0.00" textLength="16.78" lengthAdjust="spacingAndGlyphs">F</tspan><tspan x="16.78" textLength="16.87" lengthAdjust="spacingAndGlyphs">L</tspan><tspan x="33.65" textLength="14.57" lengthAdjust="spacingAndGlyphs">_</tspan><tspan x="48.23" textLength="23.70" lengthAdjust="spacingAndGlyphs">D</tspan><tspan x="71.93" textLength="20.57" lengthAdjust="spacingAndGlyphs">A</tspan><tspan x="92.50" textLength="17.99" lengthAdjust="spacingAndGlyphs">T</tspan><tspan x="110.49" textLength="18.08" lengthAdjust="spacingAndGlyphs">E</tspan><tspan x="128.57" textLength="14.57" lengthAdjust="spacingAndGlyphs">_</tspan><tspan x="143.14" textLength="25.91" lengthAdjust="spacingAndGlyphs">w</tspan><tspan x="169.05" textLength="14.57" lengthAdjust="spacingAndGlyphs">_</tspan><tspan x="183.62" textLength="17.99" lengthAdjust="spacingAndGlyphs">T</tspan><tspan x="201.61" textLength="19.95" lengthAdjust="spacingAndGlyphs">h</tspan><tspan x="221.56" textLength="19.95" lengthAdjust="spacingAndGlyphs">u</tspan><tspan x="241.52" textLength="13.27" lengthAdjust="spacingAndGlyphs">r</tspan><tspan x="254.79" textLength="15.51" lengthAdjust="spacingAndGlyphs">s</tspan></text></g>
<g class="tick" transform="translate(2147,1230.7) rotate(30)"><text><tspan x="0.00" textLength="25.17" lengthAdjust="spacingAndGlyphs">O</tspan><tspan x="25.17" textLength="19.97" lengthAdjust="spacingAndGlyphs">R</tspan><tspan x="45.14" textLength="9.01" lengthAdjust="spacingAndGlyphs">I</tspan><tspan x="54.15" textLength="23.52" lengthAdjust="spacingAndGlyphs">G</tspan><tspan x="77.67" textLength="9.01" lengthAdjust="spacingAndGlyphs">I</tspan><tspan x="86.68" textLength="24.36" lengthAdjust="spacingAndGlyphs">N</tspan><tspan x="111.04" textLength="14.48" lengthAdjust="spacingAndGlyphs">_</tspan><tspan x="125.53" textLength="17.73" lengthAdjust="spacingAndGlyphs">S</tspan><tspan x="143.26" textLength="17.88" lengthAdjust="spacingAndGlyphs">T</tspan><tspan x="161.14" textLength="20.45" lengthAdjust="spacingAndGlyphs">A</tspan><tspan x="181.58" textLength="17.88" lengthAdjust="spacingAndGlyphs">T</tspan><tspan x="199.46" textLength="17.97" lengthAdjust="spacingAndGlyphs">E</tspan><tspan x="217.43" textLength="14.48" lengthAdjust="spacingAndGlyphs">_</tspan><tspan x="231.92" textLength="20.45" lengthAdjust="spacingAndGlyphs">A</tspan><tspan x="252.36" textLength="20.94" lengthAdjust="spacingAndGlyphs">B</tspan><tspan x="273.30" textLength="19.97" lengthAdjust="spacingAndGlyphs">R</tspan><tspan x="293.27" textLength="17.88" lengthAdjust="spacingAndGlyphs">T</tspan><tspan x="311.15" textLength="18.65" lengthAdjust="spacingAndGlyphs">X</tspan></text></g>
<g class="tick" transform="translate(2250.15,1230.7) rotate(30)"><text><tspan x="0.00" textLength="25.30" lengthAdjust="spacingAndGlyphs">O</tspan><tspan x="25.30" textLength="20.08" lengthAdjust="spacingAndGlyphs">R</tspan><tspan x="45.38" textLength="9.06" lengthAdjust="spacingAndGlyphs">I</tspan><tspan x="54.44" textLength="23.65" lengthAdjust="spacingAndGlyphs">G</tspan><tspan x="78.09" textLength="9.06" lengthAdjust="spacingAndGlyphs">I</tspan><tspan x="87.15" textLength="24.49" lengthAdjust="spacingAndGlyphs">N</tspan><tspan x="111.65" textLength="14.56" lengthAdjust="spacingAndGlyphs">_</tspan><tspan x="126.21" textLength="17.83" lengthAdjust="spacingAndGlyphs">S</tspan><tspan x="144.04" textLength="17.97" lengthAdjust="spacingAndGlyphs">T</tspan><tspan x="162.01" textLength="20.56" lengthAdjust="spacingAndGlyphs">A</tspan><tspan x="182.57" textLength="17.97" lengthAdjust="spacingAndGlyphs">T</tspan><tspan x="200.54" textLength="18.07" lengthAdjust="spacingAndGlyphs">E</tspan><tspan x="218.61" textLength="14.56" lengthAdjust="spacingAndGlyphs">_</tspan><tspan x="233.17" textLength="20.56" lengthAdjust="spacingAndGlyphs">A</tspan><tspan x="253.73" textLength="21.05" lengthAdjust="spacingAndGlyphs">B</tspan><tspan x="274.78" textLength="20.08" lengthAdjust="spacingAndGlyphs">R</tspan><tspan x="294.86" textLength="30.08" lengthAdjust="spacingAndGlyphs">W</tspan><tspan x="324.94" textLength="20.56" lengthAdjust="spacingAndGlyphs">A</tspan></text></g>
<g class="tick" transform="translate(2353.3,1230.7) rotate(30)"><text><tspan x="0.00" textLength="16.85" lengthAdjust="spacingAndGlyphs">F</tspan><tspan x="16.85" textLength="16.95" lengthAdjust="spacingAndGlyphs">L</tspan><tspan x="33.80" textLength="14.64" lengthAdjust="spacingAndGlyphs">_</tspan><tspan x="48.44" textLength="23.81" lengthAdjust="spacingAndGlyphs">D</tspan><tspan x="72.25" textLength="20.66" lengthAdjust="spacingAndGlyphs">A</tspan><tspan x="92.91" textLength="18.07" lengthAdjust="spacingAndGlyphs">T</tspan><tspan x="110.98" textLength="18.16" lengthAdjust="spacingAndGlyphs">E</tspan><tspan x="129.14" textLength="14.64" lengthAdjust="spacingAndGlyphs">_</tspan><tspan x="143.78" textLength="26.02" lengthAdjust="spacingAndGlyphs">w</tspan><tspan x="169.80" textLength="14.64" lengthAdjust="spacingAndGlyphs">_</tspan><tspan x="184.44" textLength="30.23" lengthAdjust="spacingAndGlyphs">W</tspan><tspan x="214.67" textLength="18.32" lengthAdjust="spacingAndGlyphs">e</tspan><tspan x="232.99" textLength="20.01" lengthAdjust="spacingAndGlyphs">d</tspan></text></g>
<g class="tick" transform="translate(2456.45,1230.7) rotate(30)"><text><tspan x="0.00" textLength="25.27" lengthAdjust="spacingAndGlyphs">O</tspan><tspan x="25.27" textLength="20.06" lengthAdjust="spacingAndGlyphs">R</tspan><tspan x="45.33" textLength="9.05" lengthAdjust="spacingAndGlyphs">I</tspan><tspan x="54.38" textLength="23.63" lengthAdjust="spacingAndGlyphs">G</tspan><tspan x="78.01" textLength="9.05" lengthAdjust="spacingAndGlyphs">I</tspan><tspan x="87.06" textLength="24.47" lengthAdjust="spacingAndGlyphs">N</tspan><tspan x="111.52" textLength="14.55" lengthAdjust="spacingAndGlyphs">_</tspan><tspan x="126.07" textLength="17.81" lengthAdjust="spacingAndGlyphs">S</tspan><tspan x="143.88" textLength="17.95" lengthAdjust="spacingAndGlyphs">T</tspan><tspan x="161.83" textLength="20.54" lengthAdjust="spacingAndGlyphs">A</tspan><tspan x="182.37" textLength="17.95" lengthAdjust="spacingAndGlyphs">T</tspan><tspan x="200.32" textLength="18.05" lengthAdjust="spacingAndGlyphs">E</tspan><tspan x="218.37" textLength="14.55" lengthAdjust="spacingAndGlyphs">_</tspan><tspan x="232.92" textLength="20.54" lengthAdjust="spacingAndGlyphs">A</tspan><tspan x="253.45" textLength="21.03" lengthAdjust="spacingAndGlyphs">B</tspan><tspan x="274.48" textLength="20.06" lengthAdjust="spacingAndGlyphs">R</tspan><tspan x="294.54" textLength="20.54" lengthAdjust="spacingAndGlyphs">A</tspan><tspan x="315.08" textLength="18.52" lengthAdjust="spacingAndGlyphs">Z</tspan></text></g>
<g class="title" transform="translate(1308.75,1454.4)"><text><tspan x="0.00" textLength="22.49" lengthAdjust="spacingAndGlyphs">V</tspan><tspan x="22.49" textLength="21.01" lengthAdjust="spacingAndGlyphs">a</tspan><tspan x="43.50" textLength="15.42" lengthAdjust="spacingAndGlyphs">r</tspan><tspan x="58.92" textLength="9.56" lengthAdjust="spacingAndGlyphs">i</tspan><tspan x="68.48" textLength="21.01" lengthAdjust="spacingAndGlyphs">a</tspan><tspan x="89.49" textLength="23.15" lengthAdjust="spacingAndGlyphs">b</tspan><tspan x="112.65" textLength="9.56" lengthAdjust="spacingAndGlyphs">l</tspan><tspan x="122.20" textLength="21.20" lengthAdjust="spacingAndGlyphs">e</tspan></text></g>
<g class="title" transform="translate(63.6,692.6) rotate(-90)"><text><tspan x="0.00" textLength="23.75" lengthAdjust="spacingAndGlyphs">C</tspan><tspan x="23.75" textLength="22.74" lengthAdjust="spacingAndGlyphs">o</tspan><tspan x="46.49" textLength="21.12" lengthAdjust="spacingAndGlyphs">e</tspan><tspan x="67.61" textLength="12.76" lengthAdjust="spacingAndGlyphs">f</tspan><tspan x="80.36" textLength="12.76" lengthAdjust="spacingAndGlyphs">f</tspan><tspan x="93.12" textLength="9.52" lengthAdjust="spacingAndGlyphs">i</tspan><tspan x="102.64" textLength="17.92" lengthAdjust="spacingAndGlyphs">c</tspan><tspan x="120.56" textLength="9.52" lengthAdjust="spacingAndGlyphs">i</tspan><tspan x="130.08" textLength="21.12" lengthAdjust="spacingAndGlyphs">e</tspan><tspan x="151.20" textLength="23.11" lengthAdjust="spacingAndGlyphs">n</tspan><tspan x="174.31" textLength="13.29" lengthAdjust="spacingAndGlyphs">t</tspan></text></g>
</g></svg></body></html>
